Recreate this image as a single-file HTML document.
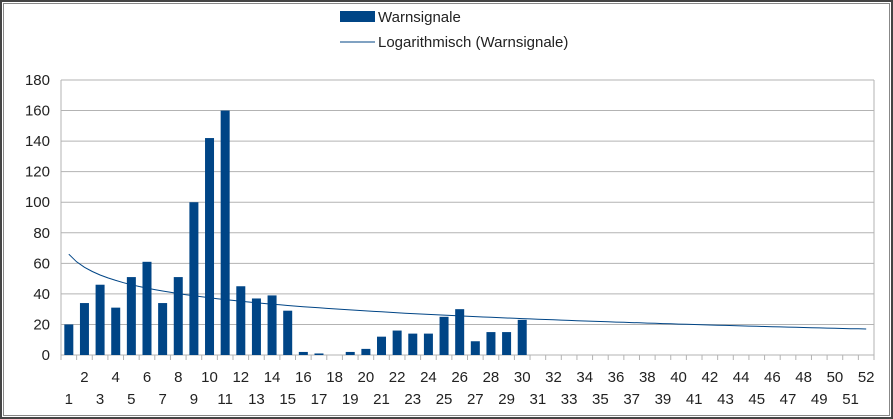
<!DOCTYPE html>
<html><head><meta charset="utf-8"><style>
html,body{margin:0;padding:0;background:#fff}
svg{display:block}
text{font-family:"Liberation Sans",Arial,sans-serif;font-size:15px;fill:#222}
</style></head><body>
<svg id="c" width="893" height="419" xmlns="http://www.w3.org/2000/svg">
<rect x="0" y="0" width="893" height="419" fill="#fff"/>
<rect x="1" y="1" width="891" height="417" fill="none" stroke="#444" stroke-width="2"/>
<rect x="3.5" y="3.5" width="886" height="412" fill="none" stroke="#888" stroke-width="1"/>
<rect x="340" y="11" width="35" height="11" fill="#004586"/>
<text x="378" y="22">Warnsignale</text>
<line x1="340" y1="42" x2="375" y2="42" stroke="#004586" stroke-width="1"/>
<text x="378" y="47">Logarithmisch (Warnsignale)</text>
<g id="g"></g>
</svg>
<script>
var g=document.getElementById('g'),s='';
var x0=61,x1=874,n=52,w=(x1-x0)/n,y0=355,sc=275/180;
for(var v=0;v<=180;v+=20){var y=y0-v*sc;
 s+='<line x1="'+x0+'" y1="'+y+'" x2="'+x1+'" y2="'+y+'" stroke="#b3b3b3"/>';
 s+='<text x="50" y="'+(y+5)+'" text-anchor="end">'+v+'</text>';}
s+='<line x1="'+x0+'" y1="80" x2="'+x0+'" y2="'+y0+'" stroke="#b3b3b3"/>';
s+='<line x1="'+x1+'" y1="80" x2="'+x1+'" y2="'+y0+'" stroke="#b3b3b3"/>';
for(var i=0;i<=n;i++){var x=x0+i*w;s+='<line x1="'+x+'" y1="'+y0+'" x2="'+x+'" y2="'+(y0+5)+'" stroke="#b3b3b3"/>';}
var d=[20,34,46,31,51,61,34,51,100,142,160,45,37,39,29,2,1,0,2,4,12,16,14,14,25,30,9,15,15,23];
for(var i=0;i<d.length;i++){var c=x0+w*(i+0.5),h=d[i]*sc;
 if(h>0)s+='<rect x="'+(c-4.5)+'" y="'+(y0-h)+'" width="9" height="'+h+'" fill="#004586"/>';}
for(var i=1;i<=n;i++){var c=x0+w*(i-0.5);
 s+='<text x="'+c+'" y="'+(i%2?404:382)+'" text-anchor="middle">'+i+'</text>';}
var p='';
for(var i=1;i<=n;i+=0.5){var c=x0+w*(i-0.5),v=66-12.4*Math.log(i);p+=(p?'L':'M')+c.toFixed(1)+' '+(y0-v*sc).toFixed(1);}
s+='<path d="'+p+'" fill="none" stroke="#004586" stroke-width="1"/>';
g.innerHTML=s;
</script>
</body></html>
